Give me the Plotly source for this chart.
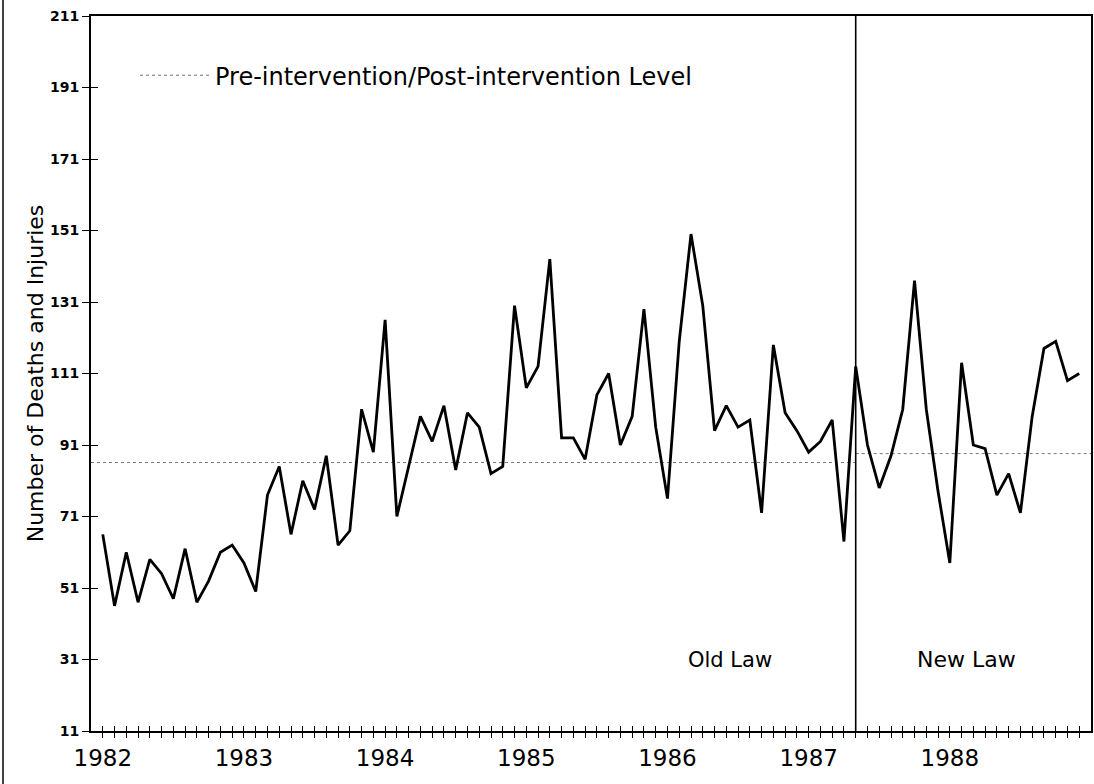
import plotly.graph_objects as go

# ---- data -------------------------------------------------------------
years = [1982, 1983, 1984, 1985, 1986, 1987, 1988]
deaths_injuries = [
    66, 46, 61, 47, 59, 55, 48, 62, 47, 53, 61, 63,      # 1982
    58, 50, 77, 85, 66, 81, 73, 88, 63, 67, 101, 89,     # 1983
    126, 71, 85, 99, 92, 102, 84, 100, 96, 83, 85, 130,  # 1984
    107, 113, 143, 93, 93, 87, 105, 111, 91, 99, 129, 96,  # 1985
    76, 120, 150, 130, 95, 102, 96, 98, 72, 119, 100, 95,  # 1986
    89, 92, 98, 64, 113, 91, 79, 88, 101, 137, 101, 78,    # 1987
    58, 114, 91, 90, 77, 83, 72, 99, 118, 120, 109, 111,   # 1988
]
intervention_month = 65          # May 1987 (month index, Jan 1982 = 1)
pre_level = 86.1
post_level = 88.6
y_ticks = [11, 31, 51, 71, 91, 111, 131, 151, 171, 191, 211]
law_labels = ["Old Law", "New Law"]

# ---- derived positions ------------------------------------------------
n = len(deaths_injuries)
month_idx = list(range(1, n + 1))
x_min, x_max = 0, n + 1
year_pos = [1 + 12 * k for k in range(len(years))]
tick_text = [str(years[year_pos.index(m)]) if m in year_pos else "" for m in month_idx]

FONT = "DejaVu Sans"

fig = go.Figure()

fig.add_trace(go.Scatter(
    x=[x_min, intervention_month], y=[pre_level, pre_level],
    mode="lines", line=dict(color="#777777", width=1, dash="dot"),
    name="Pre-intervention/Post-intervention Level", showlegend=True,
))
fig.add_trace(go.Scatter(
    x=[intervention_month, x_max], y=[post_level, post_level],
    mode="lines", line=dict(color="#777777", width=1, dash="dot"),
    showlegend=False,
))
fig.add_trace(go.Scatter(
    x=month_idx, y=deaths_injuries, mode="lines",
    line=dict(color="black", width=2.8), showlegend=False,
))
# invisible trace carrying the overlay axes (for crossing tick marks)
fig.add_trace(go.Scatter(
    x=[x_min, x_max], y=[y_ticks[0], y_ticks[-1]], xaxis="x2", yaxis="y2",
    mode="lines", line=dict(width=0), opacity=0, showlegend=False,
    hoverinfo="skip",
))

# intervention line
fig.add_shape(type="line", xref="x", yref="y",
              x0=intervention_month, x1=intervention_month,
              y0=y_ticks[0], y1=y_ticks[-1],
              line=dict(color="black", width=1.6))

# outer left border of the figure
fig.add_shape(type="line", xref="paper", yref="paper",
              x0=-0.088, x1=-0.088, y0=-0.1, y1=1.05,
              line=dict(color="black", width=1.5))

# law labels
fig.add_annotation(x=54.3, y=31, xref="x", yref="y", text=law_labels[0],
                   showarrow=False, font=dict(family=FONT, size=21, color="black"))
fig.add_annotation(x=74.4, y=31, xref="x", yref="y", text=law_labels[1],
                   showarrow=False, font=dict(family=FONT, size=22, color="black"))

common_x = dict(range=[x_min, x_max], tickvals=month_idx, automargin=False,
                tickwidth=1.2, tickcolor="black", ticklen=5,
                showgrid=False, zeroline=False)
common_y = dict(range=[y_ticks[0], y_ticks[-1]], tickvals=y_ticks, automargin=False,
                tickwidth=1.2, tickcolor="black", ticklen=7,
                showgrid=False, zeroline=False)

fig.update_layout(
    width=1094, height=784,
    margin=dict(l=91, r=3, t=16, b=53, autoexpand=False),
    paper_bgcolor="white", plot_bgcolor="white",
    showlegend=True,
    legend=dict(x=0.044, y=0.948, xanchor="left", yanchor="top",
                bgcolor="rgba(0,0,0,0)", itemwidth=70,
                font=dict(family=FONT, size=24, color="black")),
    xaxis=dict(**common_x, ticktext=tick_text, ticks="outside",
               showline=True, linecolor="black", linewidth=1.8, mirror=True,
               tickfont=dict(family=FONT, size=23, color="black")),
    yaxis=dict(**common_y, ticks="outside",
               showline=True, linecolor="black", linewidth=1.8, mirror=True,
               title=dict(text="Number of Deaths and Injuries", standoff=0,
                          font=dict(family=FONT, size=22, color="black")),
               tickfont=dict(family=FONT, size=14, color="black", weight="bold")),
    xaxis2=dict(**common_x, overlaying="x", anchor="y2", side="bottom",
                showticklabels=False, ticks="inside", showline=False),
    yaxis2=dict(**common_y, overlaying="y", anchor="x2", side="left",
                showticklabels=False, ticks="inside", showline=False),
)

fig.write_html(
    "out.html",
    config={"displayModeBar": False},
    post_script="document.body.style.margin='0px';document.body.style.overflow='hidden';",
)
